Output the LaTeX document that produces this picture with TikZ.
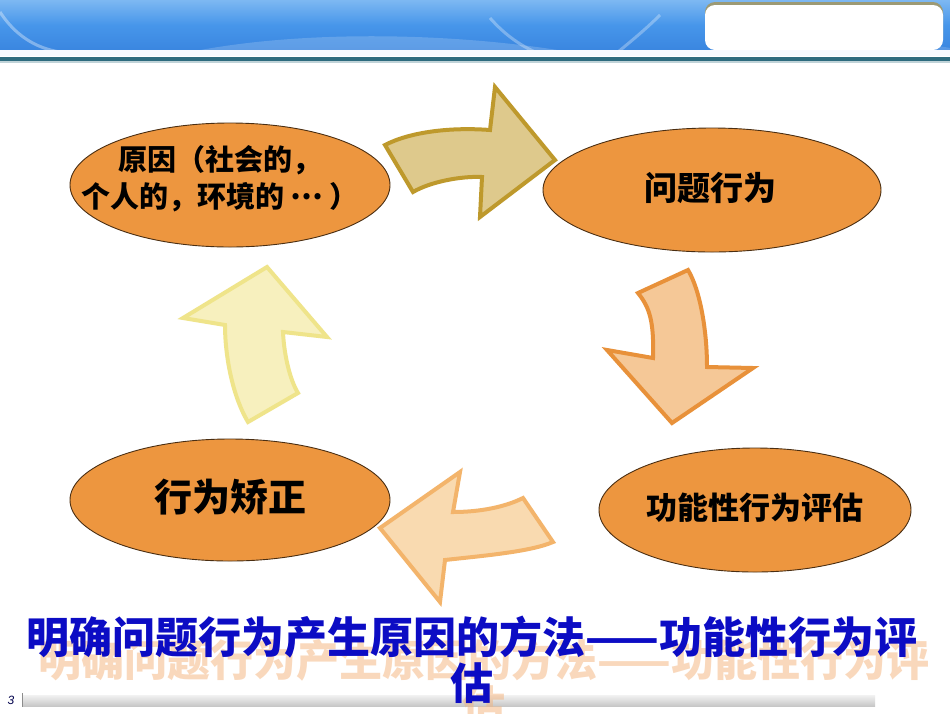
\documentclass[tikz,border=0pt]{standalone}
\usepackage{fontspec}
\newfontfamily\cjk{Noto Sans CJK SC}
\setsansfont{Liberation Sans}
\usetikzlibrary{shapes.geometric}
\definecolor{hdrtop}{HTML}{7DB8F2}
\definecolor{hdrmid}{HTML}{4796EA}
\definecolor{hdrbot}{HTML}{3A86E0}
\definecolor{tealline}{HTML}{2D6B7E}
\definecolor{ellfill}{HTML}{ED963F}
\definecolor{elldraw}{HTML}{4A2E12}
\definecolor{aonefill}{HTML}{DEC98C}
\definecolor{aonedraw}{HTML}{BE992C}
\definecolor{atwofill}{HTML}{F5C897}
\definecolor{atwodraw}{HTML}{E8913A}
\definecolor{athreefill}{HTML}{F9DAB0}
\definecolor{athreedraw}{HTML}{F3B46B}
\definecolor{afourfill}{HTML}{F7F0BE}
\definecolor{afourdraw}{HTML}{EFE48A}
\definecolor{titleblue}{HTML}{0C0CC4}
\definecolor{shadoworange}{HTML}{F4B27A}
\tikzset{
  ellbox/.style={ellipse, draw=elldraw, line width=0.9pt, fill=ellfill, inner sep=0pt},
  elltext/.style={font=\cjk, text=black, align=center, inner sep=0pt},
  blockarrow/.style={line width=4pt, line join=miter}
}
\begin{document}
\begin{tikzpicture}[x=1pt,y=-1pt]
\useasboundingbox (0,0) rectangle (950,713);
\fill[white] (0,0) rectangle (950,713);
% header band
\shade[top color=hdrtop, bottom color=hdrbot, middle color=hdrmid] (0,0) rectangle (950,50);
\draw[white, opacity=0.35, line width=3pt] (0,12) .. controls (15,35) and (35,48) .. (60,52);
\draw[white, opacity=0.3, line width=3pt] (490,18) .. controls (505,35) and (520,45) .. (535,52);
\draw[white, opacity=0.3, line width=3pt] (660,15) .. controls (645,30) and (630,42) .. (618,52);
\fill[white, opacity=0.18] (190,52) .. controls (300,30) and (450,32) .. (570,52) -- cycle;
\fill[white, opacity=0.15] (760,52) .. controls (850,40) and (920,42) .. (950,48) -- (950,52) -- cycle;
\fill[white!92!hdrtop] (0,50) rectangle (950,56);
\fill[tealline] (0,57) rectangle (950,61);
\fill[tealline!30] (0,61) rectangle (950,63);
% white rounded box
\fill[black!35!yellow!40!gray, rounded corners=10pt] (705,2) rectangle (943,47);
\fill[white, rounded corners=10pt] (705,5) rectangle (943,50);
% ellipses
\node[ellbox, minimum width=320pt, minimum height=124pt] (cause) at (230,185) {};
\node[elltext, font=\cjk\bfseries\fontsize{29}{37}\selectfont] (causetext) at (220,179) {原因（社会的，\\个人的，环境的 \raisebox{0.3em}{…} ）};
\node[ellbox, minimum width=338pt, minimum height=124pt] (problem) at (712,190) {};
\node[elltext, font=\cjk\bfseries\fontsize{33}{38}\selectfont] (problemtext) at (710,188) {问题行为};
\node[ellbox, minimum width=320pt, minimum height=122pt] (correct) at (230,500) {};
\node[elltext, font=\cjk\bfseries\fontsize{38}{42}\selectfont] (correcttext) at (230,497) {行为矫正};
\node[ellbox, minimum width=312pt, minimum height=124pt] (assess) at (755,510) {};
\node[elltext, font=\cjk\bfseries\fontsize{31}{36}\selectfont] (assesstext) at (755,508) {功能性行为评估};
% arrows
\filldraw[blockarrow, fill=aonefill, draw=aonedraw]
  (385,145) .. controls (410,132) and (450,127) .. (490,130) -- (495,87) -- (555,160) -- (480,217) -- (482,177) .. controls (460,176) and (430,182) .. (413,192) -- cycle;
\filldraw[blockarrow, fill=atwofill, draw=atwodraw]
  (638,293) -- (688,270) .. controls (700,290) and (707,330) .. (707,367) -- (753,368) -- (672,423) -- (607,350) -- (653,358) .. controls (654,322) and (650,308) .. (638,293) -- cycle;
\filldraw[blockarrow, fill=athreefill, draw=athreedraw]
  (523,498) -- (553,542) .. controls (530,552) and (480,556) .. (445,560) -- (440,602) -- (380,528) -- (460,472) -- (453,512) .. controls (480,512) and (505,507) .. (523,498) -- cycle;
\filldraw[blockarrow, fill=afourfill, draw=afourdraw]
  (248,422) -- (298,393) .. controls (290,380) and (284,355) .. (283,332) -- (327,337) -- (267,267) -- (183,318) -- (225,325) .. controls (225,355) and (232,395) .. (248,422) -- cycle;
% bottom bar
\shade[top color=black!5, bottom color=black!22] (22,695) rectangle (875,706);
\draw[black!45, line width=0.8pt] (22,693) -- (22,707);
\node[font=\sffamily\itshape\fontsize{12}{14}\selectfont, text=black!70!blue, inner sep=0pt] (pagenum) at (11,700) {3};
% title with shadow
\node[font=\cjk\bfseries\fontsize{43}{46}\selectfont, text=shadoworange, opacity=0.5, align=center, inner sep=0pt] (titleshadow) at (484,683) {明确问题行为产生原因的方法——功能性行为评\\估};
\node[font=\cjk\bfseries\fontsize{43}{46}\selectfont, text=titleblue, align=center, inner sep=0pt] (title) at (472,660) {明确问题行为产生原因的方法——功能性行为评\\估};
\end{tikzpicture}
\end{document}
